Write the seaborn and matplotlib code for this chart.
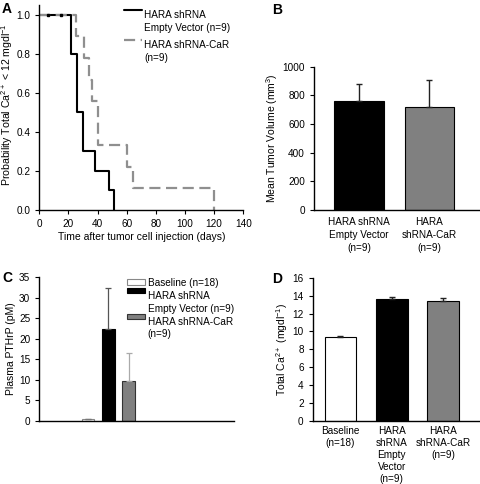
import numpy as np
import pandas as pd
import matplotlib
matplotlib.use("Agg")
import matplotlib.pyplot as plt
from matplotlib.patches import Patch
from matplotlib.lines import Line2D
from matplotlib.legend_handler import HandlerLine2D, HandlerPatch
from matplotlib.transforms import Affine2D
import seaborn as sns

# ---------------- data ----------------
# Panel A: Kaplan-Meier style step curves
ev_days = [0, 22, 26, 30, 38, 48, 51]
ev_prob = [1.0, 0.8, 0.5, 0.3, 0.2, 0.1, 0.0]
car_days = [0, 25, 31, 34, 36.5, 40, 60, 64, 120]
car_prob = [1.0, 0.889, 0.778, 0.667, 0.556, 0.333, 0.222, 0.111, 0.0]
censor_days = [6, 15]
censor_prob = [1.0, 1.0]
a_xticks = [0, 20, 40, 60, 80, 100, 120, 140]
a_yticks = [0.0, 0.2, 0.4, 0.6, 0.8, 1.0]
a_labels = ["HARA shRNA\nEmpty Vector (n=9)", "HARA shRNA-CaR\n(n=9)"]

# Panel B: tumor volume
b_groups = ["HARA shRNA\nEmpty Vector\n(n=9)", "HARA\nshRNA-CaR\n(n=9)"]
b_means = [760, 718]
b_err = [118, 192]
b_yticks = [0, 200, 400, 600, 800, 1000]

# Panel C: plasma PTHrP
c_groups = ["Baseline (n=18)", "HARA shRNA\nEmpty Vector (n=9)", "HARA shRNA-CaR\n(n=9)"]
c_means = [0.3, 22.4, 9.8]
c_err = [0.2, 9.9, 6.8]
c_yticks = [0, 5, 10, 15, 20, 25, 30, 35]

# Panel D: total calcium
d_groups = ["Baseline\n(n=18)", "HARA\nshRNA\nEmpty\nVector\n(n=9)", "HARA\nshRNA-CaR\n(n=9)"]
d_means = [9.4, 13.6, 13.45]
d_err = [0.12, 0.3, 0.3]
d_yticks = [0, 2, 4, 6, 8, 10, 12, 14, 16]

# ---------------- style ----------------
sns.set_style("ticks")
plt.rcParams["font.family"] = ["Liberation Sans", "DejaVu Sans"]
plt.rcParams["mathtext.default"] = "regular"
plt.rcParams["font.size"] = 7.2
plt.rcParams["xtick.labelsize"] = 7.2
plt.rcParams["ytick.labelsize"] = 7.2
plt.rcParams["axes.labelsize"] = 7.5
plt.rcParams["axes.linewidth"] = 1.0
plt.rcParams["xtick.major.size"] = 3
plt.rcParams["ytick.major.size"] = 3
plt.rcParams["xtick.major.width"] = 0.8
plt.rcParams["ytick.major.width"] = 0.8
plt.rcParams["xtick.color"] = "black"
plt.rcParams["ytick.color"] = "black"
plt.rcParams["axes.edgecolor"] = "black"
plt.rcParams["text.color"] = "black"
plt.rcParams["axes.labelcolor"] = "black"

W, H = 480, 484
fig = plt.figure(figsize=(W / 100, H / 100), dpi=100)

def px_axes(left, top, right, bottom):
    return fig.add_axes([left / W, 1 - bottom / H, (right - left) / W, (bottom - top) / H])


class UpLine(HandlerLine2D):
    """Line handle aligned with the first text line of a multi-line label."""
    def __init__(self, dy=0, **kw):
        super().__init__(**kw)
        self.dy = dy

    def create_artists(self, legend, orig_handle, xdescent, ydescent, width,
                       height, fontsize, trans):
        t = Affine2D().translate(0, self.dy) + trans
        return super().create_artists(legend, orig_handle, xdescent, ydescent,
                                      width, height, fontsize, t)


class UpPatch(HandlerPatch):
    def __init__(self, dy=0, **kw):
        super().__init__(**kw)
        self.dy = dy

    def create_artists(self, legend, orig_handle, xdescent, ydescent, width,
                       height, fontsize, trans):
        t = Affine2D().translate(0, self.dy) + trans
        return super().create_artists(legend, orig_handle, xdescent, ydescent,
                                      width, height, fontsize, t)


GRAY = "#808080"
LS = 1.35
DY = 8.6

# ---------------- Panel A ----------------
axA = px_axes(39.3, 4.9, 243.3, 210)
dfA1 = pd.DataFrame({"day": ev_days, "p": ev_prob})
dfA2 = pd.DataFrame({"day": car_days, "p": car_prob})
sns.lineplot(data=dfA1, x="day", y="p", ax=axA, drawstyle="steps-post",
             color="black", lw=1.5, estimator=None, sort=False)
sns.lineplot(data=dfA2, x="day", y="p", ax=axA, drawstyle="steps-post",
             color="#8f8f8f", lw=1.6, estimator=None, sort=False,
             dashes=False)
axA.lines[-1].set_dashes([5, 2.5])
axA.plot(censor_days, censor_prob, ls="none", marker="s", ms=1.6, color="black")
axA.set_xlim(0, 140)
axA.set_ylim(0, 1.05)
axA.set_xticks(a_xticks)
axA.set_yticks(a_yticks)
axA.set_yticklabels([f"{v:.1f}" for v in a_yticks])
axA.set_xlabel("Time after tumor cell injection (days)", labelpad=2)
axA.set_ylabel("Probability Total Ca$^{2+}$ < 12 mgdl$^{-1}$", fontsize=7.6)
axA.yaxis.set_label_coords(-0.12, 0.515)
sns.despine(ax=axA)
hA = [Line2D([], [], color="black", lw=1.5),
      Line2D([], [], color="#8f8f8f", lw=1.6, dashes=[5, 2.5])]
legA = axA.legend(hA, a_labels, loc="upper left", bbox_to_anchor=(0.395, 0.996),
                  frameon=False, handlelength=1.85, handletextpad=0.2,
                  labelspacing=0.75, fontsize=7.2, borderaxespad=0,
                  handler_map={h: UpLine(dy=DY) for h in hA})
for t in legA.get_texts():
    t.set_linespacing(LS)

# ---------------- Panel B ----------------
axB = px_axes(314, 66.7, 479, 210)
dfB = pd.DataFrame({"g": b_groups, "v": b_means})
sns.barplot(data=dfB, x="g", y="v", hue="g", palette=["black", GRAY],
            ax=axB, width=0.7, edgecolor="black", linewidth=0.8,
            legend=False, errorbar=None)
axB.errorbar(range(len(b_means)), b_means, yerr=[[0] * len(b_err), b_err],
             fmt="none", ecolor="#222222", elinewidth=1.0, capsize=2.5, capthick=1.0)
axB.set_xlim(-0.64, 1.71)
axB.set_ylim(0, 1000)
axB.set_yticks(b_yticks)
axB.set_xlabel("")
axB.set_ylabel("Mean Tumor Volume (mm$^{3}$)", labelpad=2)
axB.tick_params(axis="x", length=0, pad=5)
for t in axB.get_xticklabels():
    t.set_linespacing(LS)
sns.despine(ax=axB)

# ---------------- Panel C ----------------
axC = px_axes(39.3, 277.3, 234, 420.7)
c_colors = ["white", "black", GRAY]
c_edges = ["#888888", "black", "#333333"]
dfC = pd.DataFrame({"g": c_groups, "v": c_means})
sns.barplot(data=dfC, x="g", y="v", hue="g", palette=c_colors, ax=axC,
            width=0.62, linewidth=0.8, legend=False, errorbar=None)
for patch, ec in zip(axC.patches, c_edges):
    patch.set_edgecolor(ec)
err_cols = ["#777777", "#555555", "#aaaaaa"]
for i, (m, e) in enumerate(zip(c_means, c_err)):
    axC.errorbar([i], [m], yerr=[[0], [e]], fmt="none", ecolor=err_cols[i],
                 elinewidth=0.9, capsize=2.5, capthick=0.9)
axC.set_xlim(-2.4, 7.2)
axC.set_ylim(0, 35)
axC.set_yticks(c_yticks)
axC.set_xticks([])
axC.set_xlabel("")
axC.set_ylabel("Plasma PTHrP (pM)", labelpad=2)
sns.despine(ax=axC)
hC = [Patch(facecolor=c, edgecolor=ec, lw=0.8) for c, ec in zip(c_colors, c_edges)]
hmapC = {h: UpPatch(dy=(DY if "\n" in lab else 0)) for h, lab in zip(hC, c_groups)}
legC = axC.legend(hC, c_groups, loc="upper left", bbox_to_anchor=(0.43, 1.025),
                  frameon=False, handlelength=1.75, handleheight=0.45,
                  handletextpad=0.3, labelspacing=0.3, fontsize=7.2,
                  borderaxespad=0, handler_map=hmapC)
for t in legC.get_texts():
    t.set_linespacing(LS)

# ---------------- Panel D ----------------
axD = px_axes(312.7, 277.7, 479, 421)
dfD = pd.DataFrame({"g": d_groups, "v": d_means})
sns.barplot(data=dfD, x="g", y="v", hue="g", palette=["white", "black", GRAY],
            ax=axD, width=0.62, edgecolor="black", linewidth=0.8,
            legend=False, errorbar=None)
axD.errorbar(range(len(d_means)), d_means, yerr=[[0] * len(d_err), d_err],
             fmt="none", ecolor="#222222", elinewidth=1.0, capsize=2.5, capthick=1.0)
axD.set_xlim(-0.54, 2.7)
axD.set_ylim(0, 16)
axD.set_yticks(d_yticks)
axD.set_xlabel("")
axD.set_ylabel("Total Ca$^{2+}$ (mgdl$^{-1}$)", labelpad=2)
axD.tick_params(axis="x", length=0, pad=3.5)
for t in axD.get_xticklabels():
    t.set_linespacing(1.25)
sns.despine(ax=axD)

# ---------------- panel letters ----------------
for lbl, x, y in [("A", 2, 2), ("B", 272, 3), ("C", 2, 271), ("D", 272, 272)]:
    fig.text(x / W, 1 - y / H, lbl, fontsize=10, fontweight="bold",
             ha="left", va="top")

fig.savefig("out.png", dpi=100)
